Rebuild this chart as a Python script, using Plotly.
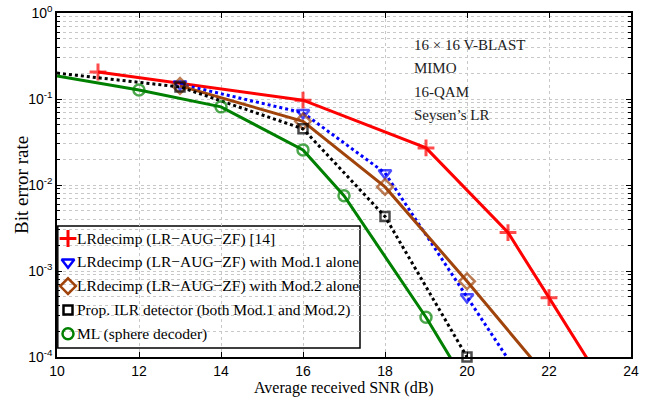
import plotly.graph_objects as go

# ---- data ----
snr_red = [11, 16, 19, 21, 22, 23]
ber_red = [0.206, 0.097, 0.027, 0.0028, 4.9e-4, 8.5e-5]

snr_blue = [13, 16, 18, 20, 21]
ber_blue = [0.149, 0.069, 0.0138, 5.0e-4, 9.5e-5]

snr_brown = [13, 16, 18, 20, 22]
ber_brown = [0.142, 0.055, 0.0095, 7.6e-4, 5.5e-5]

snr_black = [10, 13, 16, 18, 20]
ber_black = [0.20, 0.138, 0.045, 0.0043, 1.0e-4]

snr_green = [10, 12, 14, 16, 17, 19, 20]
ber_green = [0.185, 0.127, 0.081, 0.0256, 0.0075, 2.9e-4, 4.7e-5]

names = [
    "LRdecimp (LR\u2212AUG\u2212ZF) [14]",
    "LRdecimp (LR\u2212AUG\u2212ZF) with Mod.1 alone",
    "LRdecimp (LR\u2212AUG\u2212ZF) with Mod.2 alone",
    "Prop. ILR detector (both Mod.1 and Mod.2)",
    "ML (sphere decoder)",
]

x_ticks = [10, 12, 14, 16, 18, 20, 22, 24]
y_ticks = [1e-4, 1e-3, 1e-2, 1e-1, 1]
y_ticktext = ["10<sup>-4</sup>", "10<sup>-3</sup>", "10<sup>-2</sup>", "10<sup>-1</sup>", "10<sup>0</sup>"]
y_minor = [m * 10.0 ** e for e in range(-4, 0) for m in range(2, 10)]

info_lines = ["16 \u00d7 16 V-BLAST", "MIMO", "16-QAM", "Seysen\u2019s LR"]
x_title = "Average received SNR (dB)"
y_title = "Bit error rate"

serif = "Liberation Serif, Times New Roman, serif"
sans = "Liberation Sans, Arial, sans-serif"

# styles per series
styles = [
    dict(color="#ff0000", dash="solid", symbol="cross-thin", size=12, lw=3),
    dict(color="#0000ff", dash="dot", symbol="triangle-down-open", size=11, lw=2.5),
    dict(color="#a0440c", dash="solid", symbol="diamond-open", size=12, lw=2.5),
    dict(color="#000000", dash="dot", symbol="square-open", size=9, lw=2.5),
    dict(color="#008000", dash="solid", symbol="circle-open", size=11, lw=2.5),
]
series = [
    (snr_red, ber_red, None),
    (snr_blue, ber_blue, None),
    (snr_brown, ber_brown, None),
    (snr_black, ber_black, {10}),
    (snr_green, ber_green, {10}),
]

fig = go.Figure()

for (xs, ys, hidden), st, nm in zip(series, styles, names):
    sizes = [0 if (hidden and x in hidden) else st["size"] for x in xs]
    fig.add_trace(go.Scatter(
        x=xs, y=ys, name=nm, mode="lines+markers", showlegend=False,
        line=dict(color=st["color"], width=3, dash=st["dash"]),
        marker=dict(symbol=st["symbol"], size=sizes, color=st["color"],
                    line=dict(color=st["color"], width=st["lw"])),
        cliponaxis=(st["color"] != "#000000"),
        xaxis="x", yaxis="y",
    ))

# ---- hand-made legend (box, key markers, texts) ----
W, H = 574.0, 344.0          # plot area size in px
def px_x(p):                 # px from plot left -> fraction
    return p / W
def px_y(p):                 # px from plot top -> fraction
    return 1 - p / H

box = dict(x0=px_x(0.8), x1=px_x(303), y0=px_y(335), y1=px_y(213))
entry_tops = [225.5, 249.3, 273.1, 296.9, 320.7]
key_x = px_x(11)
text_x = px_x(18)

fig.add_shape(type="rect", xref="paper", yref="paper", layer="between",
              x0=box["x0"], x1=box["x1"], y0=box["y0"], y1=box["y1"],
              fillcolor="white", line=dict(color="#000", width=1.5))

for st, nm, ty in zip(styles, names, entry_tops):
    fig.add_trace(go.Scatter(
        x=[key_x], y=[px_y(ty)], mode="markers", showlegend=False,
        hoverinfo="skip", cliponaxis=False,
        marker=dict(symbol=st["symbol"], size=st["size"], color=st["color"],
                    line=dict(color=st["color"], width=st["lw"])),
        xaxis="x2", yaxis="y2",
    ))
    fig.add_annotation(
        text=nm, xref="paper", yref="paper", x=text_x, y=px_y(ty),
        xanchor="left", yanchor="middle", showarrow=False,
        font=dict(family=serif, size=15.5, color="#000"),
    )

for i, t in enumerate(info_lines):
    fig.add_annotation(
        text=t, xref="paper", yref="paper", x=px_x(355),
        y=px_y(32 + i * 23.5),
        xanchor="left", yanchor="middle", showarrow=False,
        font=dict(family=serif, size=15, color="#222222"),
    )

# axis titles
fig.add_annotation(
    text=y_title, xref="paper", yref="paper", x=px_x(-36), y=px_y(172),
    xanchor="center", yanchor="middle", textangle=-90, showarrow=False,
    font=dict(family=serif, size=19, color="#000"),
)
fig.add_annotation(
    text=x_title, xref="paper", yref="paper", x=px_x(287), y=px_y(374.5),
    xanchor="center", yanchor="middle", showarrow=False,
    font=dict(family=serif, size=16, color="#000"),
)

grid = "#c8c8c8"
fig.update_layout(
    xaxis=dict(
        range=[10, 24], tickvals=x_ticks, ticks="inside", ticklen=5,
        tickcolor="#000", showline=True, linecolor="#000", linewidth=1.5,
        mirror="ticks", showgrid=True, gridcolor=grid, griddash="dot",
        gridwidth=1, zeroline=False, automargin=False,
        tickfont=dict(family=sans, size=14, color="#000"),
    ),
    yaxis=dict(
        type="log", range=[-4, 0], tickvals=y_ticks, ticktext=y_ticktext,
        ticks="inside", ticklen=5, tickcolor="#000",
        showline=True, linecolor="#000", linewidth=1.5, mirror="ticks",
        showgrid=True, gridcolor=grid, griddash="dot", gridwidth=1,
        automargin=False,
        minor=dict(tickvals=y_minor, ticks="inside", ticklen=3, tickcolor="#000",
                   showgrid=True, gridcolor=grid, griddash="dot", gridwidth=1),
        tickfont=dict(family=sans, size=14, color="#000"),
    ),
    xaxis2=dict(overlaying="x", range=[0, 1], visible=False, fixedrange=True),
    yaxis2=dict(overlaying="y", range=[0, 1], visible=False, fixedrange=True),
    width=649, height=398,
    margin=dict(l=57, r=18, t=13, b=41),
    plot_bgcolor="white", paper_bgcolor="white",
    showlegend=False,
)

fig.write_html(
    "out.html",
    config={"displayModeBar": False},
    post_script="document.body.style.margin='0';document.body.style.overflow='hidden';",
)
